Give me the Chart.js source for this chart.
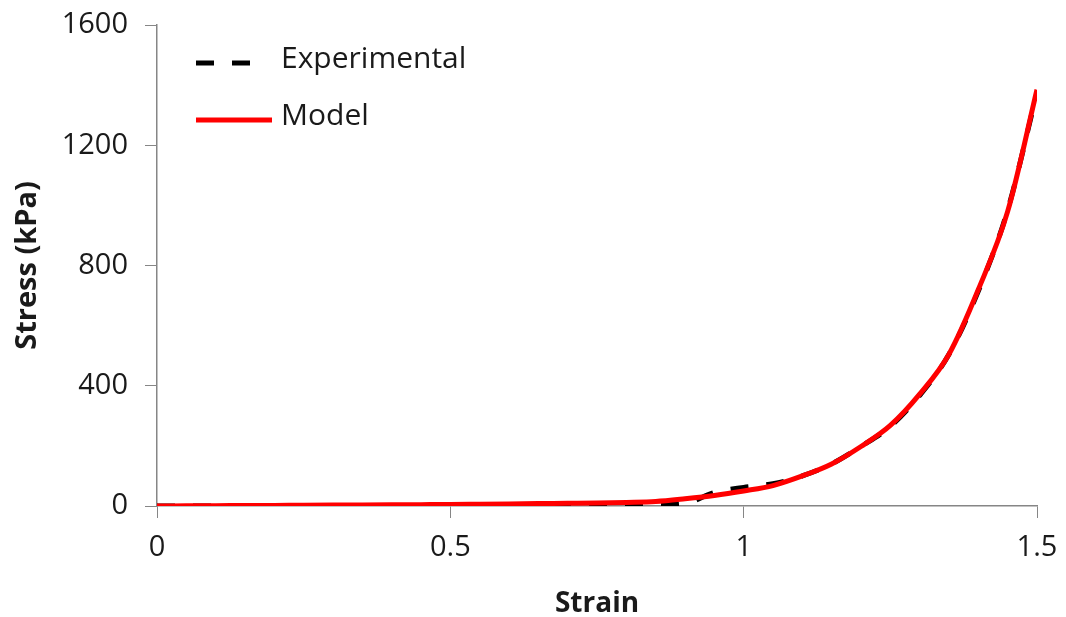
<!DOCTYPE html>
<html lang="en">
<head>
  <meta charset="UTF-8">
  <title>Stress vs Strain</title>
  <style>
    html, body {
      margin: 0;
      padding: 0;
      background: #fff;
    }
    #wrap {
      width: 1066px;
      height: 617px;
    }
  </style>
</head>
<body>
  <div id="wrap"><canvas id="chart" width="1066" height="617"></canvas></div>

  <script src="https://cdn.jsdelivr.net/npm/chart.js"></script>
  <script>
    // values
    const strain = [0, 0.05, 0.1, 0.15, 0.2, 0.25, 0.3, 0.35, 0.4, 0.45, 0.5,
      0.55, 0.6, 0.65, 0.7, 0.75, 0.8, 0.85, 0.9, 0.95, 1.0,
      1.05, 1.1, 1.15, 1.2, 1.25, 1.3, 1.35, 1.4, 1.45, 1.5];
    const experimentalStress = [0, 0, 0, 0, 0, 0, 0, 0, 0, 0, 0,
      0, 1, 1, 1, 2, 3, 5, 9, 45, 62,
      74, 100, 140, 198, 265, 368, 505, 715, 985, 1375];
    const modelStress = [0, 0.5, 1, 1.5, 2, 2.5, 3, 3.5, 4, 4.5, 5,
      6, 7, 8, 9, 10, 12, 15, 24, 35, 50,
      68, 100, 140, 198, 268, 372, 505, 720, 980, 1385];
    const yTicks = [0, 400, 800, 1200, 1600];

    const axisGray = '#868686';
    const textColor = '#1a1a1a';
    const fontFamily = "'Open Sans', 'Liberation Sans', sans-serif";

    const toPoints = (ys) => strain.map((x, i) => ({ x: x, y: ys[i] }));

    // legend drawn inside the plot area, top-left, as in the reference
    const insideLegend = {
      id: 'insideLegend',
      afterDraw(chart) {
        const ctx = chart.ctx;
        const area = chart.chartArea;
        const rows = [chart.data.datasets[0], chart.data.datasets[1]];
        ctx.save();
        ctx.font = '30px ' + fontFamily;
        ctx.textBaseline = 'middle';
        ctx.fillStyle = textColor;
        rows.forEach((ds, i) => {
          const y = area.top + 38 + i * 57;
          const x0 = area.left + 39;
          const len = ds.borderDash ? 55 : 76;
          ctx.strokeStyle = ds.borderColor;
          ctx.lineWidth = ds.borderWidth;
          ctx.setLineDash(ds.borderDash || []);
          ctx.beginPath();
          ctx.moveTo(x0, y);
          ctx.lineTo(x0 + len, y);
          ctx.stroke();
          ctx.setLineDash([]);
          ctx.fillText(ds.label, x0 + 85, y - 4);
        });
        ctx.restore();
      }
    };

    new Chart(document.getElementById('chart'), {
      type: 'line',
      data: {
        datasets: [
          {
            label: 'Experimental',
            data: toPoints(experimentalStress),
            borderColor: '#000000',
            borderWidth: 5,
            borderDash: [18, 18],
            pointRadius: 0,
            cubicInterpolationMode: 'monotone',
            fill: false,
            order: 2
          },
          {
            label: 'Model',
            data: toPoints(modelStress),
            borderColor: '#ff0000',
            borderWidth: 5,
            pointRadius: 0,
            cubicInterpolationMode: 'monotone',
            fill: false,
            order: 1
          }
        ]
      },
      options: {
        responsive: false,
        animation: false,
        layout: { padding: { top: 25, right: 29, left: 0, bottom: 0 } },
        plugins: {
          legend: { display: false },
          tooltip: { enabled: false }
        },
        scales: {
          x: {
            type: 'linear',
            min: 0,
            max: 1.5,
            afterFit: (s) => {
              s.height = 111;
              s.paddingLeft = 0;
              s.paddingRight = 0;
            },
            ticks: {
              stepSize: 0.5,
              padding: 12,
              color: textColor,
              font: { family: fontFamily, size: 29 },
              callback: (v) => String(v)
            },
            grid: {
              drawOnChartArea: false,
              color: axisGray,
              tickLength: 12,
              tickColor: axisGray
            },
            border: { color: axisGray, width: 1.5 },
            title: {
              display: true,
              text: 'Strain',
              color: textColor,
              font: { family: fontFamily, size: 28, weight: 'bold' },
              padding: { top: 0, bottom: -4 }
            }
          },
          y: {
            min: 0,
            max: 1600,
            afterFit: (s) => {
              s.width = 157;
              s.paddingTop = 0;
              s.paddingBottom = 0;
            },
            afterBuildTicks: (s) => { s.ticks = yTicks.map((v) => ({ value: v })); },
            ticks: {
              padding: 17,
              color: textColor,
              font: { family: fontFamily, size: 29 },
              callback: (v) => String(v)
            },
            grid: {
              drawOnChartArea: false,
              color: axisGray,
              tickLength: 12,
              tickColor: axisGray
            },
            border: { color: axisGray, width: 1.5 },
            title: {
              display: true,
              text: 'Stress (kPa)',
              color: textColor,
              font: { family: fontFamily, size: 29, weight: 'bold' },
              padding: { top: 10, bottom: 0 }
            }
          }
        }
      },
      plugins: [insideLegend]
    });
  </script>
</body>
</html>
